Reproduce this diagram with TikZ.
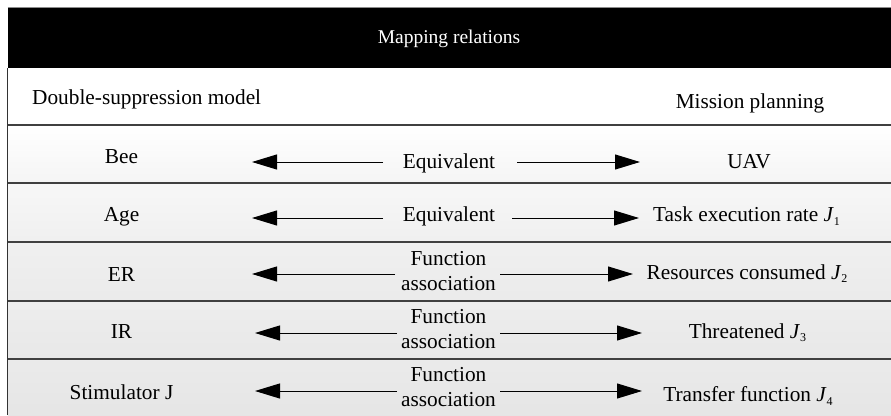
\documentclass[tikz,border=0pt]{standalone}
\usepackage{fontspec}
\setmainfont{Liberation Serif}
\usetikzlibrary{arrows.meta}
\newcommand{\Jsub}[1]{\textit{J}\raisebox{-0.4ex}{\fontsize{12}{12}\selectfont #1}}
\begin{document}
\begin{tikzpicture}[x=1pt,y=-1pt,
  txt/.style={inner sep=0pt,anchor=base,font=\fontsize{21.3}{25}\selectfont},
  divider/.style={draw=black!75,line width=1.3pt},
  maparrow/.style={line width=1pt,-{Triangle[length=25pt,width=15pt]}}]
\useasboundingbox (0,0) rectangle (891,415);
\fill[white] (0,0) rectangle (891,415);
% title bar
\fill[black] (7.5,7.5) rectangle (891,68);
\draw[black!45,line width=0.8pt] (7.5,7.5) -- (891,7.5);
% row backgrounds
\shade[top color=white,bottom color=black!4] (7.5,125) rectangle (891,183);
\shade[top color=black!3,bottom color=black!6] (7.5,183) rectangle (891,242);
\shade[top color=black!6,bottom color=black!8] (7.5,242) rectangle (891,301);
\shade[top color=black!7,bottom color=black!9] (7.5,301) rectangle (891,359);
\shade[top color=black!8,bottom color=black!10] (7.5,359) rectangle (891,415);
% row dividers and left border
\foreach \yy in {125,183,242,301,359} \draw[divider] (7.5,\yy) -- (891,\yy);
\draw[black!80,line width=1pt] (7.5,68) -- (7.5,415);
% header texts
\node[txt,text=white,font=\fontsize{19.5}{24}\selectfont] (title) at (449,43.5) {Mapping relations};
\node[txt,anchor=base west] (lhead) at (32,104) {Double-suppression model};
\node[txt] (rhead) at (750,108) {Mission planning};
% left column
\node[txt] (bee) at (121.5,163) {Bee};
\node[txt] (age) at (121.5,221) {Age};
\node[txt] (er) at (121.5,281.5) {ER};
\node[txt] (ir) at (121.5,338) {IR};
\node[txt] (stim) at (121.5,399) {Stimulator J};
% right column
\node[txt] (uav) at (749,168.5) {UAV};
\node[txt] (j1) at (746.5,221.5) {Task execution rate \Jsub{1}};
\node[txt] (j2) at (747,279) {Resources consumed \Jsub{2}};
\node[txt] (j3) at (747.5,338) {Threatened \Jsub{3}};
\node[txt] (j4) at (748,401.5) {Transfer function \Jsub{4}};
% middle relation labels
\node[txt] (m1) at (449,168.5) {Equivalent};
\node[txt] (m2) at (449,221) {Equivalent};
\node[txt] (m3a) at (448.5,265) {Function};
\node[txt] (m3b) at (448.5,290) {association};
\node[txt] (m4a) at (448.5,323.5) {Function};
\node[txt] (m4b) at (448.5,348.5) {association};
\node[txt] (m5a) at (448.5,381.5) {Function};
\node[txt] (m5b) at (448.5,406.5) {association};
% arrow end points
\coordinate (l1s) at (383,162);   \coordinate (l1e) at (252,162);
\coordinate (r1s) at (517,162);   \coordinate (r1e) at (640,162);
\coordinate (l2s) at (383,218);   \coordinate (l2e) at (252,218);
\coordinate (r2s) at (512,218);   \coordinate (r2e) at (639,218);
\coordinate (l3s) at (395,274);   \coordinate (l3e) at (252,274);
\coordinate (r3s) at (500,274);   \coordinate (r3e) at (633,274);
\coordinate (l4s) at (397,333);   \coordinate (l4e) at (255,333);
\coordinate (r4s) at (500,333);   \coordinate (r4e) at (642,333);
\coordinate (l5s) at (397,391);   \coordinate (l5e) at (255,391);
\coordinate (r5s) at (500,391);   \coordinate (r5e) at (642,391);
\foreach \i in {1,...,5} {
  \draw[maparrow] (l\i s) -- (l\i e);
  \draw[maparrow] (r\i s) -- (r\i e);
}
\end{tikzpicture}
\end{document}
